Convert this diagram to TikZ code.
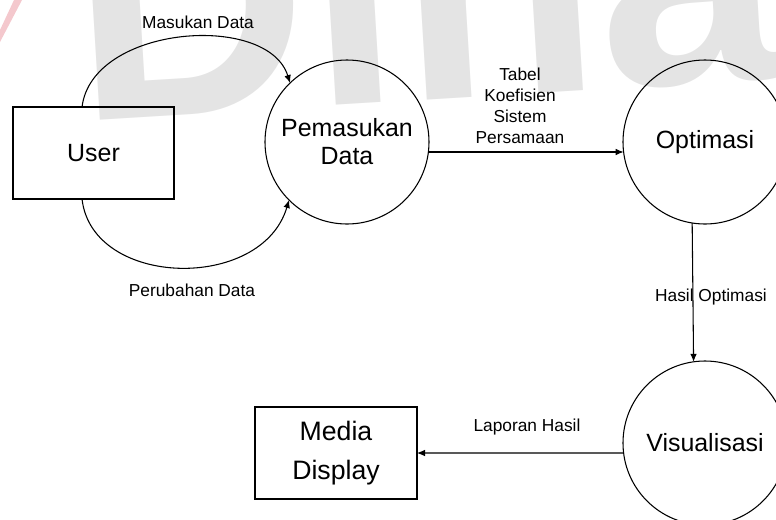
\documentclass[tikz,border=0pt]{standalone}
\usepackage{fontspec}
\setmainfont{Liberation Sans}
\usetikzlibrary{arrows.meta}
\definecolor{wmgray}{RGB}{228,228,228}
\definecolor{wmpink}{RGB}{244,200,205}
\begin{document}
\begin{tikzpicture}[x=0.75pt,y=-0.75pt,
  every node/.style={inner sep=0pt, outer sep=0pt},
  process/.style={draw, circle, minimum size=123pt, line width=0.8pt,
    font=\fontsize{18.7}{21}\selectfont, align=center},
  entity/.style={draw, rectangle, line width=0.8pt, align=center},
  flow/.style={draw, line width=0.8pt, -{Latex[length=6pt,width=5pt]}},
  flowlabel/.style={font=\fontsize{13}{15.75}\selectfont, align=center}]
\useasboundingbox (0,0) rectangle (776,519);
\clip (0,0) rectangle (776,519);

% faint background logo
\fill[wmpink] (0,42) -- (0,30) -- (14,0) -- (22,0) -- cycle;
\node[font=\fontsize{245}{245}\selectfont\bfseries, text=wmgray,
  anchor=base west, rotate=3.5] (wm) at (78,121) {Dinamika};

% external entities
\node[entity, minimum width=120.75pt, minimum height=69pt,
  font=\fontsize{18.7}{21}\selectfont] (user) at (93.5,153) {User};
\node[entity, minimum width=121.5pt, minimum height=69pt,
  font=\fontsize{20}{29}\selectfont] (md) at (336,453) {Media\\Display};

% processes
\node[process] (pd) at (347,142) {Pemasukan\\Data};
\node[process] (opt) at (705,142) {Optimasi};
\node[process] (vis) at (705,443) {Visualisasi};

% data flows
\draw[flow] ([xshift=-8.6pt]user.north) .. controls (92,25) and (268,12) .. (pd.134.5);
\draw[flow] ([xshift=-8.6pt]user.south) .. controls (92,288) and (262,292) .. (pd.225.5);
\draw[flow] (pd.-7.7) -- (opt.187.7);
\draw[flow] (opt.261.6) -- (vis.98.4);
\draw[flow] (vis.187) -- (md.east);

% flow labels
\node[flowlabel] (lmasuk) at (198,22) {Masukan Data};
\node[flowlabel] (lubah) at (192,290) {Perubahan Data};
\node[flowlabel] (ltabel) at (520,106) {Tabel\\Koefisien\\Sistem\\Persamaan};
\node[flowlabel] (lhasil) at (711,297) {Hasil Optimasi};
\node[flowlabel] (llapor) at (527,427) {Laporan Hasil};
\end{tikzpicture}
\end{document}
